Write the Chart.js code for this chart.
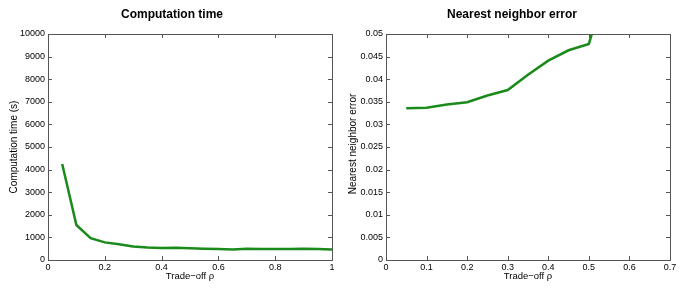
<!DOCTYPE html>
<html>
<head>
<meta charset="UTF-8">
<title>Trade-off</title>
<script src="https://cdn.jsdelivr.net/npm/chart.js"></script>
<style>
  body { margin: 0; background: #fff; }
  .box { position: absolute; top: 0; height: 292px; }
</style>
</head>
<body>
<div class="box" style="left:0; width:342px;"><canvas id="g1" width="342" height="292"></canvas></div>
<div class="box" style="left:342px; width:343px;"><canvas id="g2" width="343" height="292"></canvas></div>

<script>
// trade-off values (x)
const rho = [0.05, 0.1, 0.15, 0.2, 0.25, 0.3, 0.35, 0.4, 0.45, 0.5,
             0.55, 0.6, 0.65, 0.7, 0.75, 0.8, 0.85, 0.9, 0.95, 1.0]
// computation time in seconds
const tempo = [4250, 1550, 970, 780, 700, 600, 550, 530, 540, 520,
               500, 490, 460, 500, 490, 490, 490, 500, 490, 460]
// nearest neighbor error (last point goes off the top)
const rhoErr = [0.05, 0.1, 0.15, 0.2, 0.25, 0.3, 0.35, 0.4, 0.45, 0.5, 0.55]
const erro = [0.0336, 0.0337, 0.0344, 0.0349, 0.0364, 0.0376, 0.0410, 0.0441, 0.0464, 0.0478, 0.063]

const ticksX1 = [0, 0.2, 0.4, 0.6, 0.8, 1]
const ticksY1 = [0, 1000, 2000, 3000, 4000, 5000, 6000, 7000, 8000, 9000, 10000]
const ticksX2 = [0, 0.1, 0.2, 0.3, 0.4, 0.5, 0.6, 0.7]
const ticksY2 = [0, 0.005, 0.01, 0.015, 0.02, 0.025, 0.03, 0.035, 0.04, 0.045, 0.05]

const verde = '#1a8a1a'
const fonte = '"Liberation Sans", Arial, sans-serif'

// matlab-like box, inward ticks and the texts
const caixa = {
  id: 'caixa',
  afterDraw(chart, args, o) {
    const c = chart.ctx, a = chart.chartArea
    const sx = chart.scales.x, sy = chart.scales.y
    c.save()
    c.strokeStyle = '#555'
    c.lineWidth = 1
    c.strokeRect(Math.round(a.left) + 0.5, Math.round(a.top) + 0.5,
                 Math.round(a.right - a.left), Math.round(a.bottom - a.top))
    c.beginPath()
    o.tx.forEach(v => {
      const p = Math.round(sx.getPixelForValue(v)) + 0.5
      c.moveTo(p, a.bottom); c.lineTo(p, a.bottom - 4)
      c.moveTo(p, a.top); c.lineTo(p, a.top + 4)
    })
    o.ty.forEach(v => {
      const p = Math.round(sy.getPixelForValue(v)) + 0.5
      c.moveTo(a.left, p); c.lineTo(a.left + 4, p)
      c.moveTo(a.right, p); c.lineTo(a.right - 4, p)
    })
    c.stroke()

    c.fillStyle = '#000'
    c.textAlign = 'center'
    c.textBaseline = 'middle'
    c.font = 'bold 12px ' + fonte
    c.fillText(o.titulo, o.tituloX, 15)
    c.font = '9.5px ' + fonte
    c.fillText('Trade\u2212off \u03c1', (a.left + a.right) / 2, 276)
    c.font = '10px ' + fonte
    c.translate(o.yTitX, o.yTitY)
    c.rotate(-Math.PI / 2)
    c.fillText(o.yTit, 0, 0)
    c.restore()
  }
}

function montar(id, xs, ys, tx, ty, xmax, ymax, esq, dir, titulo, tituloX, yTit, yTitX, yTitY) {
  return new Chart(document.getElementById(id), {
    type: 'line',
    data: {
      datasets: [{
        data: xs.map((x, i) => ({ x: x, y: ys[i] })),
        borderColor: verde,
        borderWidth: 2.5,
        pointRadius: 0,
        tension: 0,
        fill: false
      }]
    },
    options: {
      responsive: false,
      animation: false,
      layout: { padding: { left: 0, right: dir, top: 34, bottom: 0 } },
      plugins: {
        legend: { display: false },
        tooltip: { enabled: false },
        caixa: { tx: tx, ty: ty, titulo: titulo, tituloX: tituloX, yTit: yTit, yTitX: yTitX, yTitY: yTitY }
      },
      scales: {
        x: {
          type: 'linear', min: 0, max: xmax,
          grid: { display: false, drawTicks: false, tickLength: 0 },
          border: { display: false },
          afterBuildTicks: s => { s.ticks = tx.map(v => ({ value: v })) },
          afterFit: s => { s.height = 32 },
          ticks: {
            padding: 2, color: '#000', maxRotation: 0, autoSkip: false,
            font: { family: fonte, size: 9 },
            callback: v => String(v)
          }
        },
        y: {
          type: 'linear', min: 0, max: ymax,
          grid: { display: false, drawTicks: false, tickLength: 0 },
          border: { display: false },
          afterBuildTicks: s => { s.ticks = ty.map(v => ({ value: v })) },
          afterFit: s => { s.width = esq },
          ticks: {
            padding: 3, color: '#000', autoSkip: false,
            font: { family: fonte, size: 9 },
            callback: v => String(v)
          }
        }
      }
    },
    plugins: [caixa]
  })
}

montar('g1', rho, tempo, ticksX1, ticksY1, 1, 10000, 48, 10,
       'Computation time', 172, 'Computation time (s)', 14, 147)
montar('g2', rhoErr, erro, ticksX2, ticksY2, 0.7, 0.05, 44, 15,
       'Nearest neighbor error', 170, 'Nearest neighbor error', 11, 144)
</script>
</body>
</html>
